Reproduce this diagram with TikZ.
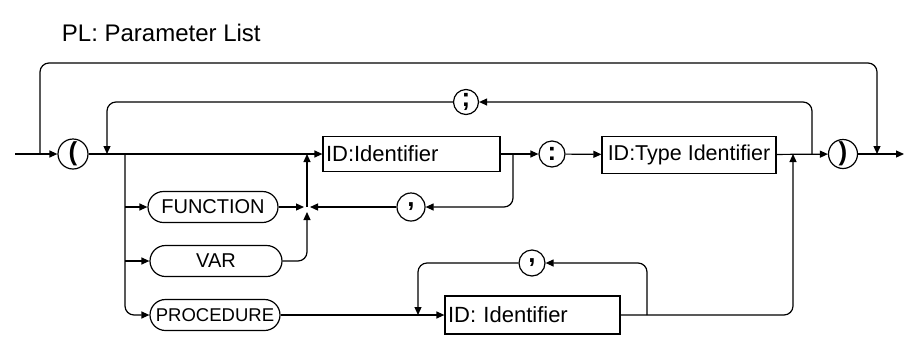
\documentclass[tikz,border=0pt]{standalone}
\usepackage{fontspec}
\setmainfont{Liberation Sans}
\usetikzlibrary{arrows.meta}
\begin{document}
\begin{tikzpicture}[x=1pt,y=-1pt,line width=1.2pt,
  arr/.style={-{Triangle[length=8pt,width=7pt]}},
  rc/.style={rounded corners=9pt},
  circ/.style={draw,circle,inner sep=0pt,minimum size=#1,font=\fontsize{26}{26}\selectfont\bfseries},
  idbox/.style={draw,rectangle,inner xsep=3pt,inner ysep=0pt,minimum height=35pt,align=left,font=\fontsize{22}{22}\selectfont},
  term/.style={draw,rounded corners=15.5pt,inner sep=0pt,minimum height=31pt,minimum width=130pt,font=\fontsize{20}{20}\selectfont},
  title/.style={anchor=west,font=\fontsize{24}{24}\selectfont}]
\useasboundingbox (0,0) rectangle (909,349);
\node[title] (ttl) at (58,33) {PL: Parameter List};
% nodes
\node[circ=30pt] (lp) at (73,154) {(};
\node[circ=25pt] (semi) at (466,102) {;};
\node[idbox,text width=171pt] (id1) at (411.5,154) {ID:Identifier};
\node[circ=26pt] (colon) at (552,154) {:};
\node[draw,rectangle,inner sep=0pt,minimum width=174pt,minimum height=37pt,font=\fontsize{21.5}{22}\selectfont] (tid) at (689,155) {ID:Type Identifier};
\node[circ=29pt] (rp) at (843,154) {)};
\node[term] (func) at (213,207) {FUNCTION};
\node[term,minimum width=132pt] (var) at (216,261) {VAR};
\node[term,font=\fontsize{18.5}{18.5}\selectfont] (proc) at (215,315) {PROCEDURE};
\node[circ=28pt] (comma1) at (411,207) {,};
\node[idbox,text width=169pt,minimum height=38pt] (id2) at (532.5,315) {ID: Identifier};
\node[circ=26pt] (comma2) at (532,263) {,};
% coordinates
\coordinate (start) at (15,154);
\coordinate (stop) at (904,154);
\coordinate (j0) at (40,154);
\coordinate (top) at (460,63);
\coordinate (j9) at (877,154);
\coordinate (j8) at (812,154);
\coordinate (j1) at (107,154);
\coordinate (j2) at (513,154);
\coordinate (j3) at (125,154);
\coordinate (jfa) at (125,207);
\coordinate (jva) at (125,261);
\coordinate (jf) at (307,207);
\coordinate (jfl) at (304,207);
\coordinate (jfr) at (310,207);
\coordinate (jvu) at (307,212);
\coordinate (jm) at (307,154);
\coordinate (jp) at (647,315);
\coordinate (jd) at (418,315);
\coordinate (ju) at (793,154);
% main line
\draw[arr] (start) -- (lp);
\draw[arr] (lp) -- (id1);
\draw[arr] (id1) -- (colon);
\draw[arr] (colon) -- (tid);
\draw[arr] (tid) -- (rp);
\draw[arr] (rp) -- (stop);
% top bypass
\draw[arr,rc] (j0) |- (top) -| (j9);
% semicolon loop
\draw[arr,rc] (j8) |- (semi);
\draw[arr,rc] (semi) -| (j1);
% comma after identifier
\draw[arr,rc] (j2) |- (comma1);
\draw[arr] (comma1) -- (jfr);
% left branches
\draw[arr,rc] (j3) |- (proc);
\draw[arr] (jfa) -- (func);
\draw[arr] (jva) -- (var);
\draw[arr] (func) -- (jfl);
\draw[arr,rc] (var) -| (jvu);
\draw[arr] (jf) -- (jm);
% procedure branch
\draw[arr] (proc) -- (id2);
\draw[arr,rc] (jp) |- (comma2);
\draw[arr,rc] (comma2) -| (jd);
\draw[arr,rc] (id2) -| (ju);
\end{tikzpicture}
\end{document}
